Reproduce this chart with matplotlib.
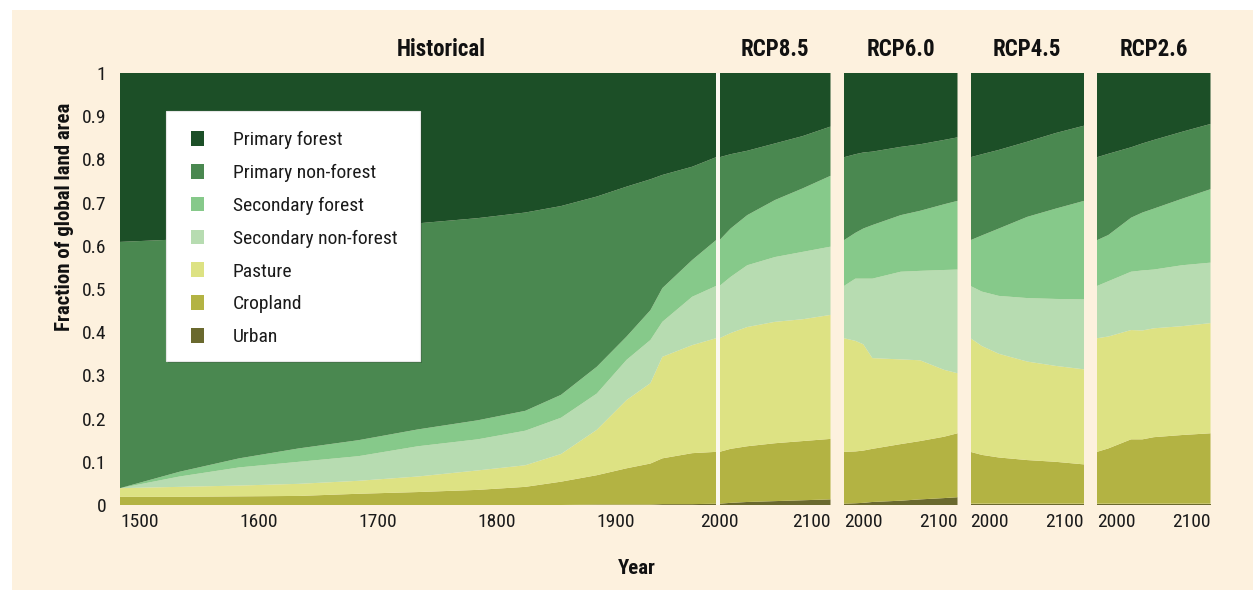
import numpy as np
import matplotlib
matplotlib.use("Agg")
import matplotlib.pyplot as plt
from matplotlib import font_manager
from matplotlib.patches import Rectangle, Patch

# ---------------- data (fraction of global land area per class) ----------------
layer_names = ["Urban", "Cropland", "Pasture", "Secondary non-forest",
               "Secondary forest", "Primary non-forest", "Primary forest"]
layer_colors = ["#6a692e", "#b3b343", "#dde283", "#b7dcb1",
                "#86c98a", "#4a8850", "#1c4f27"]

hist_years = [1500, 1550, 1600, 1650, 1700, 1750, 1800, 1840, 1870, 1900, 1925, 1945, 1955, 1980, 2000]
hist_urban = [0, 0, 0, 0, 0, 0, 0, 0, 0, 0.001, 0.001, 0.001, 0.002, 0.002, 0.003]
hist_crop = [0.019, 0.019, 0.020, 0.021, 0.026, 0.030, 0.035, 0.042, 0.054, 0.068, 0.084, 0.095, 0.106, 0.118, 0.120]
hist_past = [0.020, 0.023, 0.025, 0.028, 0.030, 0.036, 0.045, 0.050, 0.064, 0.105, 0.158, 0.186, 0.235, 0.250, 0.263]
hist_snf = [0, 0.024, 0.042, 0.051, 0.057, 0.070, 0.072, 0.080, 0.084, 0.084, 0.093, 0.100, 0.081, 0.112, 0.121]
hist_sf = [0, 0.011, 0.021, 0.031, 0.037, 0.039, 0.044, 0.046, 0.053, 0.062, 0.054, 0.069, 0.078, 0.085, 0.106]
hist_pnf = [0.570, 0.538, 0.514, 0.500, 0.491, 0.477, 0.468, 0.459, 0.437, 0.394, 0.347, 0.303, 0.262, 0.216, 0.192]
hist_pf = [0.391, 0.385, 0.378, 0.369, 0.359, 0.348, 0.336, 0.323, 0.308, 0.286, 0.263, 0.246, 0.236, 0.217, 0.195]

rcp85_years = [2000, 2010, 2025, 2050, 2075, 2100]
rcp85_urban = [0.003, 0.005, 0.007, 0.009, 0.011, 0.013]
rcp85_crop = [0.120, 0.125, 0.129, 0.134, 0.137, 0.140]
rcp85_past = [0.263, 0.268, 0.276, 0.281, 0.282, 0.287]
rcp85_snf = [0.121, 0.130, 0.143, 0.150, 0.156, 0.158]
rcp85_sf = [0.106, 0.112, 0.116, 0.132, 0.147, 0.164]
rcp85_pnf = [0.192, 0.172, 0.149, 0.131, 0.121, 0.114]
rcp85_pf = [0.195, 0.188, 0.180, 0.163, 0.146, 0.124]

rcp60_years = [2000, 2010, 2017, 2025, 2050, 2067, 2088, 2100]
rcp60_urban = [0.003, 0.004, 0.005, 0.007, 0.010, 0.013, 0.016, 0.018]
rcp60_crop = [0.120, 0.120, 0.121, 0.123, 0.131, 0.135, 0.142, 0.148]
rcp60_past = [0.263, 0.256, 0.246, 0.210, 0.196, 0.187, 0.155, 0.139]
rcp60_snf = [0.121, 0.144, 0.152, 0.184, 0.203, 0.207, 0.231, 0.240]
rcp60_sf = [0.106, 0.106, 0.116, 0.124, 0.131, 0.139, 0.152, 0.159]
rcp60_pnf = [0.192, 0.182, 0.176, 0.170, 0.158, 0.154, 0.149, 0.147]
rcp60_pf = [0.195, 0.188, 0.184, 0.182, 0.171, 0.165, 0.155, 0.149]

rcp45_years = [2000, 2010, 2025, 2050, 2075, 2100]
rcp45_urban = [0.003, 0.003, 0.003, 0.003, 0.003, 0.003]
rcp45_crop = [0.120, 0.113, 0.107, 0.101, 0.097, 0.091]
rcp45_past = [0.263, 0.252, 0.240, 0.228, 0.222, 0.220]
rcp45_snf = [0.121, 0.126, 0.134, 0.147, 0.155, 0.162]
rcp45_sf = [0.106, 0.130, 0.156, 0.188, 0.209, 0.228]
rcp45_pnf = [0.192, 0.188, 0.182, 0.174, 0.175, 0.174]
rcp45_pf = [0.195, 0.188, 0.178, 0.159, 0.139, 0.122]

rcp26_years = [2000, 2010, 2030, 2040, 2050, 2075, 2100]
rcp26_urban = [0.003, 0.003, 0.003, 0.003, 0.003, 0.003, 0.003]
rcp26_crop = [0.120, 0.128, 0.149, 0.149, 0.154, 0.159, 0.163]
rcp26_past = [0.263, 0.259, 0.253, 0.252, 0.252, 0.252, 0.255]
rcp26_snf = [0.121, 0.128, 0.135, 0.139, 0.136, 0.141, 0.140]
rcp26_sf = [0.106, 0.107, 0.125, 0.134, 0.141, 0.154, 0.170]
rcp26_pnf = [0.192, 0.188, 0.163, 0.160, 0.159, 0.155, 0.151]
rcp26_pf = [0.195, 0.187, 0.172, 0.163, 0.155, 0.136, 0.118]

panel_titles = ["Historical", "RCP8.5", "RCP6.0", "RCP4.5", "RCP2.6"]
hist_ticks = [1500, 1600, 1700, 1800, 1900]
rcp_ticks = [2000, 2100]
y_ticks = [0, 0.1, 0.2, 0.3, 0.4, 0.5, 0.6, 0.7, 0.8, 0.9, 1.0]
y_ticklabels = ["0", "0.1", "0.2", "0.3", "0.4", "0.5", "0.6", "0.7", "0.8", "0.9", "1"]

# ---------------- fonts ----------------
avail = {f.name for f in font_manager.fontManager.ttflist}
fam = "DejaVu Sans"
for cand in ["Liberation Sans Narrow", "DejaVu Sans Condensed", "Roboto Condensed", "Liberation Sans"]:
    if cand in avail:
        fam = cand
        break
plt.rcParams["font.family"] = [fam, "DejaVu Sans"]

# ---------------- figure ----------------
W, H = 1253, 592
fig = plt.figure(figsize=(W / 100, H / 100), dpi=100, facecolor="white")
BG = "#fdf1de"

def fx(px):
    return px / W

def fy(py):
    return 1 - py / H

fig.patches.append(Rectangle((fx(12), fy(590)), 1 - fx(12), fy(10) - fy(590),
                             transform=fig.transFigure, facecolor=BG, edgecolor="none", zorder=-10))
# thin white separator between historical and RCP8.5
fig.patches.append(Rectangle((fx(716), fy(505)), fx(719.5) - fx(716), fy(73) - fy(505),
                             transform=fig.transFigure, facecolor="#fbf8f0", edgecolor="none", zorder=-5))

top_px, bot_px = 73, 505
panels_px = [(120, 716), (719.5, 830.5), (844, 957.5), (970.5, 1084), (1097, 1210.5)]

panel_data = [
    (hist_years, [hist_urban, hist_crop, hist_past, hist_snf, hist_sf, hist_pnf, hist_pf]),
    (rcp85_years, [rcp85_urban, rcp85_crop, rcp85_past, rcp85_snf, rcp85_sf, rcp85_pnf, rcp85_pf]),
    (rcp60_years, [rcp60_urban, rcp60_crop, rcp60_past, rcp60_snf, rcp60_sf, rcp60_pnf, rcp60_pf]),
    (rcp45_years, [rcp45_urban, rcp45_crop, rcp45_past, rcp45_snf, rcp45_sf, rcp45_pnf, rcp45_pf]),
    (rcp26_years, [rcp26_urban, rcp26_crop, rcp26_past, rcp26_snf, rcp26_sf, rcp26_pnf, rcp26_pf]),
]

tick_fs = 14
axes = []
for i, ((x0, x1), (yrs, vals)) in enumerate(zip(panels_px, panel_data)):
    ax = fig.add_axes([fx(x0), fy(bot_px), fx(x1) - fx(x0), fy(top_px) - fy(bot_px)])
    ax.set_facecolor("none")
    ax.stackplot(yrs, *vals, colors=layer_colors, linewidth=0, antialiased=True)
    ax.set_xlim(yrs[0], yrs[-1])
    ax.set_ylim(0, 1)
    for s in ax.spines.values():
        s.set_visible(False)
    ax.tick_params(axis="both", length=0, labelsize=tick_fs, colors="#1a1a1a")
    if i == 0:
        ax.set_xticks(hist_ticks)
        ax.set_xticklabels([str(t) for t in hist_ticks])
        for lab in ax.get_xticklabels():
            lab.set_horizontalalignment("left")
        ax.set_yticks(y_ticks)
        ax.set_yticklabels(y_ticklabels)
        ax.tick_params(axis="y", pad=10)
    else:
        ax.set_xticks(rcp_ticks)
        ax.set_xticklabels([str(t) for t in rcp_ticks])
        labs = ax.get_xticklabels()
        labs[0].set_horizontalalignment("center" if i == 1 else "left")
        labs[1].set_horizontalalignment("right")
        ax.set_yticks([])
    ax.tick_params(axis="x", pad=6)
    axes.append(ax)

# titles
title_x = [441, 775, 901, 1027, 1154]
for t, xp in zip(panel_titles, title_x):
    fig.text(fx(xp), fy(50), t, ha="center", va="center", fontsize=16.5,
             fontweight="bold", color="#111111")

# axis labels
fig.text(fx(637), fy(568), "Year", ha="center", va="center", fontsize=15,
         fontweight="bold", color="#111111")
fig.text(fx(64), fy(217), "Fraction of global land area", ha="center", va="center",
         rotation=90, fontsize=15, fontweight="bold", color="#111111")

# legend box with subtle shadow
lx0, ly0, lx1, ly1 = 166, 111, 420, 361
fig.patches.append(Rectangle((fx(lx0 + 2), fy(ly1 + 2)), fx(lx1) - fx(lx0), fy(ly0) - fy(ly1),
                             transform=fig.transFigure, facecolor="black", alpha=0.18,
                             edgecolor="none", zorder=5))
fig.patches.append(Rectangle((fx(lx0), fy(ly1)), fx(lx1) - fx(lx0), fy(ly0) - fy(ly1),
                             transform=fig.transFigure, facecolor="white",
                             edgecolor="#e6e6e6", linewidth=0.8, zorder=6))

handles = [Patch(facecolor=c, edgecolor="none") for c in layer_colors[::-1]]
leg = fig.legend(handles, layer_names[::-1], loc="upper left",
                 bbox_to_anchor=(fx(191), fy(131)), frameon=False, fontsize=14,
                 handlelength=0.65, handleheight=0.78, handletextpad=1.5,
                 labelspacing=0.76, borderpad=0, borderaxespad=0)
leg.set_zorder(7)
for txt in leg.get_texts():
    txt.set_color("#1a1a1a")

fig.savefig("out.png", dpi=100, facecolor="white")
